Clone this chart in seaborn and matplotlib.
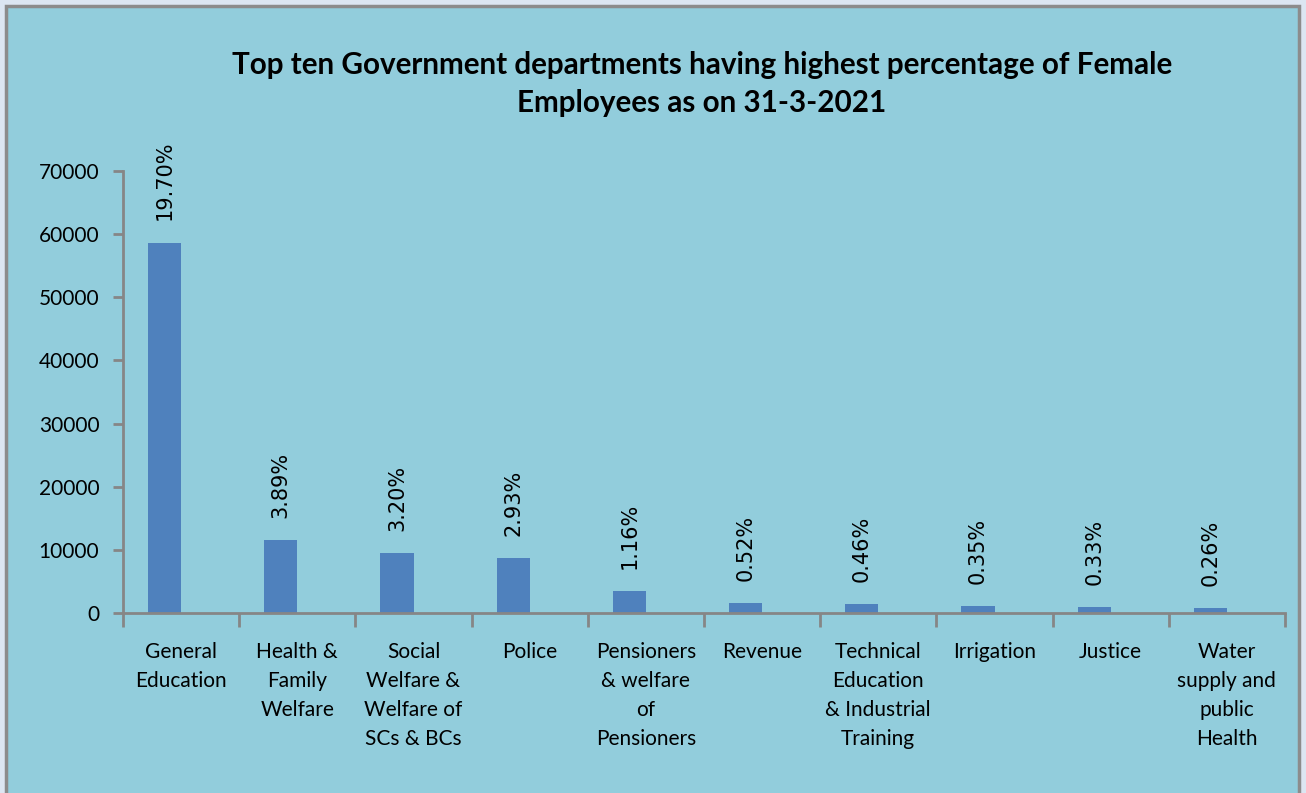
import numpy as np
import pandas as pd
import seaborn as sns
import matplotlib.pyplot as plt
from matplotlib.patches import Rectangle

departments = ['General\nEducation', 'Health &\nFamily\nWelfare', 'Social\nWelfare &\nWelfare of\nSCs & BCs',
               'Police', 'Pensioners\n& welfare\nof\nPensioners', 'Revenue',
               'Technical\nEducation\n& Industrial\nTraining', 'Irrigation', 'Justice',
               'Water\nsupply and\npublic\nHealth']
female_employees = [58650, 11570, 9520, 8720, 3450, 1550, 1370, 1040, 980, 770]
pct_labels = ['19.70%', '3.89%', '3.20%', '2.93%', '1.16%', '0.52%', '0.46%', '0.35%', '0.33%', '0.26%']

df = pd.DataFrame({'dept': departments, 'count': female_employees, 'series': 'Female'})

sns.set_style('white')
plt.rcParams['font.family'] = ['Lato', 'DejaVu Sans']
plt.rcParams['text.color'] = 'black'
plt.rcParams['xtick.color'] = 'black'
plt.rcParams['ytick.color'] = 'black'

W, H = 1306, 793
fig = plt.figure(figsize=(W / 100, H / 100), dpi=100)
fig.patch.set_facecolor('#dce6f2')
# chart frame (behind the axes)
frame = Rectangle((6 / W, -0.01), 1293 / W, 1 - 6 / H + 0.01, transform=fig.transFigure,
                  facecolor='#92cddc', edgecolor='#8c8c8c', linewidth=2.5, zorder=-10)
fig.patches.append(frame)

ax = fig.add_axes([123 / W, 1 - 613 / H, (1285 - 123) / W, (613 - 171) / H])
ax.set_facecolor('none')
ax.set_zorder(1)
# Excel-style: bar sits left of the category centre (empty second series slot)
sns.barplot(data=df, x='dept', y='count', hue='series', hue_order=['Female', 'Other'],
            palette={'Female': '#4f81bd', 'Other': '#c0504d'}, saturation=1,
            width=0.57, dodge=True, linewidth=0, edgecolor='none', legend=False, ax=ax)

ax.set_ylim(0, 70000)
ax.set_xlim(-0.5, len(departments) - 0.5)
ax.set_yticks(np.arange(0, 70001, 10000))
ax.set_xlabel('')
ax.set_ylabel('')
for s in ['top', 'right']:
    ax.spines[s].set_visible(False)
for s in ['left', 'bottom']:
    ax.spines[s].set_color('#868686')
    ax.spines[s].set_linewidth(2)

ax.tick_params(axis='y', which='major', direction='out', length=7, width=2, color='#868686',
               labelsize=15, pad=10, left=True)
ax.set_xticks(np.arange(-0.5, len(departments), 1.0), minor=True)
ax.tick_params(axis='x', which='minor', direction='out', length=10, width=2, color='#868686', bottom=True)
ax.tick_params(axis='x', which='major', length=0, labelsize=15, pad=21)
for lbl in ax.get_xticklabels():
    lbl.set_linespacing(1.55)

bars = [p for p in ax.patches if p.get_height() > 0]
for bar, txt in zip(bars, pct_labels):
    ax.annotate(txt, (bar.get_x() + bar.get_width() / 2, bar.get_height()),
                xytext=(0, 16), textcoords='offset points', rotation=90,
                ha='center', va='bottom', fontsize=15, family='DejaVu Sans')

fig.text(702 / W, 1 - 51 / H,
         'Top ten Government departments having highest percentage of Female\nEmployees as on 31-3-2021',
         ha='center', va='top', multialignment='center', fontsize=21.3, fontweight='bold', linespacing=1.45)

fig.savefig('out.png', dpi=100, facecolor=fig.get_facecolor())
